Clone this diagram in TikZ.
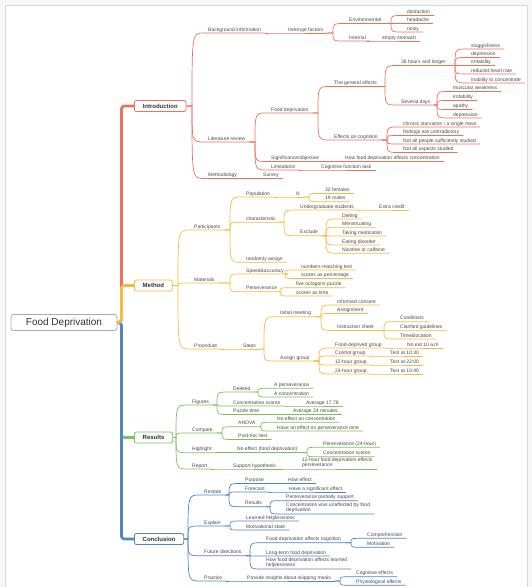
\documentclass[tikz,border=0pt]{standalone}
\usepackage{fontspec}
\setmainfont{Liberation Sans}
\usetikzlibrary{calc}
\definecolor{cR}{HTML}{E9735F}
\definecolor{cY}{HTML}{F4BC3E}
\definecolor{cG}{HTML}{7CC25C}
\definecolor{cB}{HTML}{5186C4}
\definecolor{txt}{HTML}{4A4A4A}
\tikzset{
  st/.style={anchor=south west, inner xsep=4pt, inner ysep=0.8pt, text height=3.6pt, text depth=1pt, text=txt, font=\fontsize{5}{5.6}\selectfont},
  st2/.style={anchor=south west, inner xsep=4pt, inner ysep=0.8pt, align=left, text=txt, font=\fontsize{5}{5.6}\selectfont},
  mt/.style={anchor=west, draw=#1, line width=0.8pt, rounded corners=2pt, fill=white, inner xsep=8.3pt, inner ysep=0pt, minimum height=11pt, text=black!80, font=\bfseries\fontsize{6}{7}\selectfont},
  lk/.style={line width=0.7pt},
  trunk/.style={draw=#1, line width=2.7pt, rounded corners=3pt},
}
\newcommand\lnk[3][south east]{%
  \path (#3.south west) ++(-12,0) coordinate (jx);
  \draw[lk] (#2.#1) -- (jx |- #2.#1) .. controls (jx |- #3.south west) .. (#3.south west) -- (#3.south east);}
\begin{document}
\begin{tikzpicture}[x=1pt,y=-1pt]
\useasboundingbox (0,0) rectangle (532,587);
\fill[gray!6] (0,0) rectangle (532,587);
\fill[white] (5,5) rectangle (527,587);
\draw[gray!30, line width=0.5pt] (5,587) -- (5,5) -- (527,5) -- (527,587);

% root and main topics
\node[draw=gray!65, line width=0.8pt, rounded corners=2.5pt, fill=white, minimum width=106pt, minimum height=16pt, inner sep=0pt, text=black!80, font=\fontsize{10}{12}\selectfont] (root) at (64,322.5) {Food Deprivation};
\node[mt=cR] (intro) at (134,106) {Introduction};
\node[mt=cY] (method) at (134,285.5) {Method};
\node[mt=cG] (results) at (134,437.5) {Results};
\node[mt=cB] (concl) at (134,539) {Conclusion};

% Introduction
\node[st] (bg) at (204,33) {Background information};
\node[st] (intf) at (284,33) {Interrupt factors};
\node[st] (env) at (345,23.5) {Environmental};
\node[st] (intl) at (345,41) {Internal};
\node[st] (dis) at (403,15.5) {distraction};
\node[st] (head) at (403,23.5) {headache};
\node[st] (noisy) at (403,32) {noisy};
\node[st] (emp) at (378,41) {empty stomach};
\node[st] (lit) at (204,142) {Literature review};
\node[st] (fd) at (267,113) {Food deprivation};
\node[st] (ge) at (330,86.5) {The general effects};
\node[st] (h36) at (397,65.5) {36 hours and longer};
\node[st] (slug) at (467,49) {sluggishness};
\node[st] (dep1) at (467,57.5) {depression};
\node[st] (irr1) at (467,65.5) {irritability};
\node[st] (rhr) at (467,74) {reduced heart rate};
\node[st] (inab) at (467,83) {inability to concentrate};
\node[st] (sev) at (397,105) {Several days};
\node[st] (musc) at (449,91.5) {muscular weakness};
\node[st] (irr2) at (449,100.5) {irritability};
\node[st] (apa) at (449,109.5) {apathy};
\node[st] (dep2) at (449,118) {depression};
\node[st] (eoc) at (330,140) {Effects on cognition};
\node[st] (chr) at (399,127) {chronic starvation / a single meal};
\node[st] (fin) at (399,135.5) {findings are contradictory};
\node[st] (nap) at (399,144) {Not all people sufficiently studied};
\node[st] (naa) at (399,152.5) {Not all aspects studied};
\node[st] (sig) at (267,161.5) {Significance/objective};
\node[st] (hfc) at (341,161.5) {How food deprivation affects concentration};
\node[st] (lim) at (267,170) {Limitations};
\node[st] (cft) at (317,170) {Cognitive function task};
\node[st] (meth) at (204,178.5) {Methodology};
\node[st] (surv) at (259,178.5) {Survey};

% Method
\node[st] (part) at (190,230) {Participants};
\node[st] (pop) at (242,197) {Population};
\node[st] (nn) at (292,197) {N};
\node[st] (f32) at (321,193.5) {32 females};
\node[st] (m19) at (321,201.7) {19 males};
\node[st] (chara) at (242,222.3) {characteristic};
\node[st] (ug) at (296,210) {Undergraduate students};
\node[st] (xc) at (375,210) {Extra credit};
\node[st] (exc) at (296,235.7) {Exclude};
\node[st] (diet) at (338,219) {Dieting};
\node[st] (mens) at (338,227.3) {Menstruating};
\node[st] (med) at (338,236) {Taking medication};
\node[st] (eat) at (338,245) {Eating disorder};
\node[st] (nic) at (338,253.3) {Nicotine or caffeine};
\node[st] (ra) at (242,262.3) {randomly assign};
\node[st] (mat) at (190,283) {Materials};
\node[st] (sa) at (242,274) {Speed\&accuracy};
\node[st] (nmt) at (297,270) {numbers-matching test};
\node[st] (sap) at (297,278.5) {scores as percentage};
\node[st] (pers) at (242,291.7) {Perseverance};
\node[st] (fop) at (292,287.7) {five octogons puzzle};
\node[st] (sat) at (292,296) {scores as time};
\node[st] (proc) at (190,349) {Procedure};
\node[st] (steps) at (239,349) {Steps};
\node[st] (im) at (276,316.7) {Initial meeting};
\node[st] (ic) at (333,305) {Informed consent};
\node[st] (asg) at (333,313.5) {Assignment};
\node[st] (ish) at (333,330.5) {Instruction sheet};
\node[st] (cond) at (396,321.7) {Conditions};
\node[st] (cgd) at (396,330.7) {Clarified guidelines};
\node[st] (tl) at (396,339) {Time\&location};
\node[st] (ag) at (276,361) {Assign group};
\node[st] (fdg) at (331,348) {Food-deprived group};
\node[st] (ctl) at (331,356) {Control group};
\node[st] (g12) at (331,365) {12-hour group};
\node[st] (g24) at (331,374) {24-hour group};
\node[st] (ne10) at (403,348) {No eat 10 a.m};
\node[st] (t1) at (386,356) {Test at 10:30};
\node[st] (t2) at (386,365) {Test at 22:00};
\node[st] (t3) at (386,374) {Test at 10:40};

% Results
\node[st] (fig) at (188,405) {Figures};
\node[st] (del) at (229,392) {Deleted};
\node[st] (ap) at (270,388.3) {A perseverance};
\node[st] (ac) at (270,397) {A concentration};
\node[st] (cs) at (229,406) {Concentration scores};
\node[st] (av1) at (302,406) {Average 17.78};
\node[st] (ptm) at (229,414.5) {Puzzle time};
\node[st] (av2) at (289,414.5) {Average 24 minutes};
\node[st] (cmp) at (188,433) {Compare};
\node[st] (anova) at (234,426.7) {ANOVA};
\node[st] (ne) at (273,422.3) {No effect on concentration};
\node[st] (he) at (273,431) {Have an effect on perseverance time};
\node[st] (ph) at (234,439.5) {Post-hoc test};
\node[st] (hl) at (188,452.7) {Highlight};
\node[st] (ned) at (233,452.7) {No effect (food deprivation)};
\node[st] (p24) at (319,447.3) {Perseverance (24-hour)};
\node[st] (cs2) at (319,456.7) {Concentration scores};
\node[st] (rep) at (188,469) {Report};
\node[st] (sh) at (229,469) {Support hypothesis};
\node[st2] (h12e) at (298,469) {12-hour food deprivation effects\\perseverance};

% Conclusion
\node[st] (rs) at (200,495) {Restate};
\node[st] (pu) at (241,483.5) {Purpose};
\node[st] (hef) at (284,483.5) {How effect};
\node[st] (fc) at (241,492) {Forecast};
\node[st] (hse) at (285,492) {Have a significant effect};
\node[st] (res) at (241,506.7) {Results};
\node[st] (pps) at (282,500.7) {Perseverance partially support};
\node[st2] (cwu) at (282,514) {Concentration was unaffected by food\\deprivation};
\node[st] (ex) at (200,526) {Explain};
\node[st] (lh) at (242,521) {Learned helplessness};
\node[st] (ms) at (242,530) {Motivational state};
\node[st] (fdir) at (200,555.7) {Future directions};
\node[st] (fdac) at (262,542.7) {Food deprivation affects cognition};
\node[st] (comp) at (363,538.3) {Comprehension};
\node[st] (motiv) at (363,547.3) {Motivation};
\node[st] (ltfd) at (262,556) {Long-term food deprivation};
\node[st2] (hfd) at (262,569) {How food deprivation affects learned\\helplessness};
\node[st] (pr) at (200,581) {Practice};
\node[st] (pi) at (243,581) {Provide insights about skipping meals};
\node[st] (ce) at (352,576.7) {Cognitive effects};
\node[st] (pe) at (352,585.3) {Physiological effects};

% trunk
\coordinate (tr) at ($(root.east)+(4,0)$);
\draw[trunk=cG] (root.east) -- (tr) -- (tr |- results.west) -- (results.west);
\draw[trunk=cB] (root.east) -- (tr) -- (tr |- concl.west) -- (concl.west);
\draw[trunk=cR] (root.east) -- (tr) -- (tr |- intro.west) -- (intro.west);
\draw[trunk=cY] (root.east) -- (tr) -- (tr |- method.west) -- (method.west);

% Introduction links
\begin{scope}[lk/.style={draw=cR, line width=0.7pt}]
\lnk[east]{intro}{bg}\lnk[east]{intro}{lit}\lnk[east]{intro}{meth}
\lnk{bg}{intf}\lnk{intf}{env}\lnk{intf}{intl}
\lnk{env}{dis}\lnk{env}{head}\lnk{env}{noisy}\lnk{intl}{emp}
\lnk{lit}{fd}\lnk{lit}{sig}\lnk{lit}{lim}
\lnk{fd}{ge}\lnk{fd}{eoc}
\lnk{ge}{h36}\lnk{ge}{sev}
\lnk{h36}{slug}\lnk{h36}{dep1}\lnk{h36}{irr1}\lnk{h36}{rhr}\lnk{h36}{inab}
\lnk{sev}{musc}\lnk{sev}{irr2}\lnk{sev}{apa}\lnk{sev}{dep2}
\lnk{eoc}{chr}\lnk{eoc}{fin}\lnk{eoc}{nap}\lnk{eoc}{naa}
\lnk{sig}{hfc}\lnk{lim}{cft}\lnk{meth}{surv}
\end{scope}

% Method links
\begin{scope}[lk/.style={draw=cY, line width=0.7pt}]
\lnk[east]{method}{part}\lnk[east]{method}{mat}\lnk[east]{method}{proc}
\lnk{part}{pop}\lnk{part}{chara}\lnk{part}{ra}
\lnk{pop}{nn}\lnk{nn}{f32}\lnk{nn}{m19}
\lnk{chara}{ug}\lnk{chara}{exc}\lnk{ug}{xc}
\lnk{exc}{diet}\lnk{exc}{mens}\lnk{exc}{med}\lnk{exc}{eat}\lnk{exc}{nic}
\lnk{mat}{sa}\lnk{mat}{pers}
\lnk{sa}{nmt}\lnk{sa}{sap}\lnk{pers}{fop}\lnk{pers}{sat}
\lnk{proc}{steps}\lnk{steps}{im}\lnk{steps}{ag}
\lnk{im}{ic}\lnk{im}{asg}\lnk{im}{ish}
\lnk{ish}{cond}\lnk{ish}{cgd}\lnk{ish}{tl}
\lnk{ag}{fdg}\lnk{ag}{ctl}\lnk{ag}{g12}\lnk{ag}{g24}
\lnk{fdg}{ne10}\lnk{ctl}{t1}\lnk{g12}{t2}\lnk{g24}{t3}
\end{scope}

% Results links
\begin{scope}[lk/.style={draw=cG, line width=0.7pt}]
\lnk[east]{results}{fig}\lnk[east]{results}{cmp}\lnk[east]{results}{hl}\lnk[east]{results}{rep}
\lnk{fig}{del}\lnk{fig}{cs}\lnk{fig}{ptm}
\lnk{del}{ap}\lnk{del}{ac}\lnk{cs}{av1}\lnk{ptm}{av2}
\lnk{cmp}{anova}\lnk{cmp}{ph}\lnk{anova}{ne}\lnk{anova}{he}
\lnk{hl}{ned}\lnk{ned}{p24}\lnk{ned}{cs2}
\lnk{rep}{sh}\lnk{sh}{h12e}
\end{scope}

% Conclusion links
\begin{scope}[lk/.style={draw=cB, line width=0.7pt}]
\lnk[east]{concl}{rs}\lnk[east]{concl}{ex}\lnk[east]{concl}{fdir}\lnk[east]{concl}{pr}
\lnk{rs}{pu}\lnk{rs}{fc}\lnk{rs}{res}
\lnk{pu}{hef}\lnk{fc}{hse}\lnk{res}{pps}\lnk{res}{cwu}
\lnk{ex}{lh}\lnk{ex}{ms}
\lnk{fdir}{fdac}\lnk{fdir}{ltfd}\lnk{fdir}{hfd}
\lnk{fdac}{comp}\lnk{fdac}{motiv}
\lnk{pr}{pi}\lnk{pi}{ce}\lnk{pi}{pe}
\end{scope}
\end{tikzpicture}
\end{document}
